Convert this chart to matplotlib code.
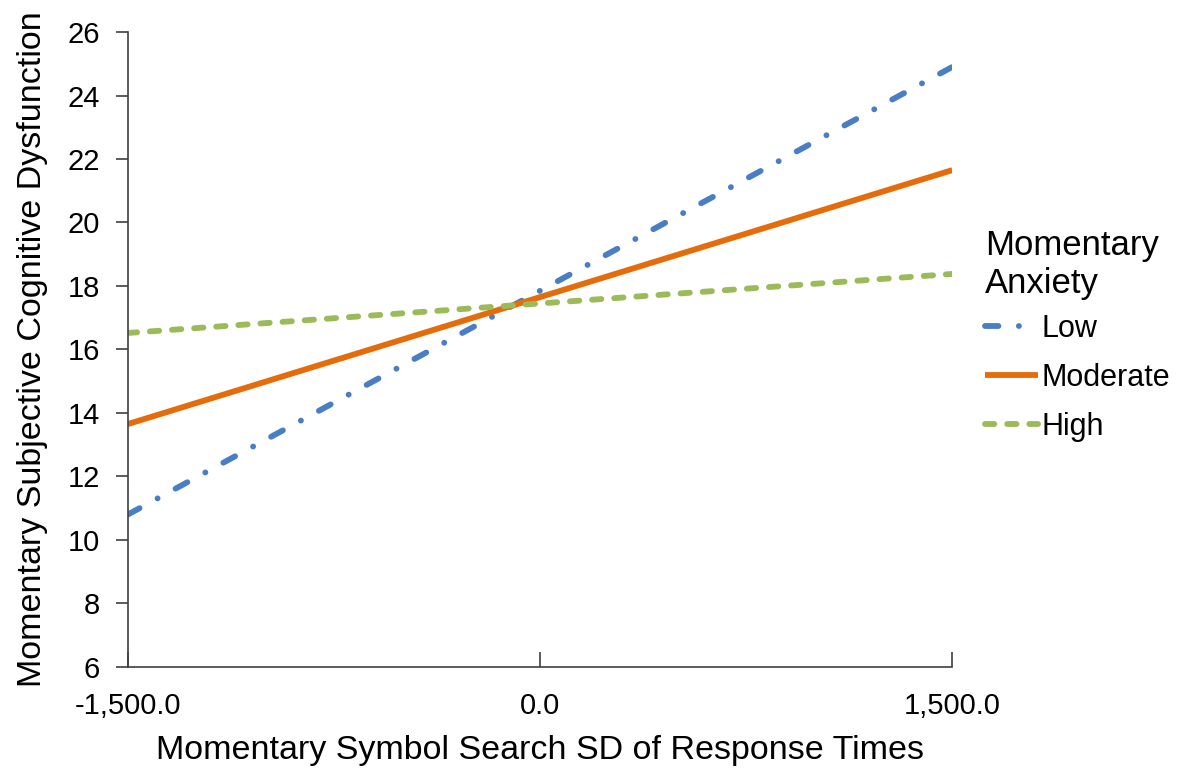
import numpy as np
import matplotlib
matplotlib.use("Agg")
import matplotlib.pyplot as plt

# values
x_vals = [-1500, 1500]
low = [10.8, 24.9]
moderate = [13.65, 21.65]
high = [16.52, 18.38]
x_ticks = [-1500, 0, 1500]
x_ticklabels = ["-1,500.0", "0.0", "1,500.0"]
y_ticks = list(range(6, 27, 2))

plt.rcParams["font.family"] = ["Liberation Sans", "DejaVu Sans"]

fig = plt.figure(figsize=(11.83, 7.75), dpi=100)
ax = fig.add_axes([0.108, 0.1394, 0.697, 0.8193])

lw = 4.2
ax.plot(x_vals, low, color="#4A7EC4", lw=lw, dash_capstyle="round",
        linestyle=(0, (2.3, 3.5, 0.02, 3.5)), label="Low")
ax.plot(x_vals, moderate, color="#E46C0A", lw=lw, solid_capstyle="butt",
        label="Moderate")
ax.plot(x_vals, high, color="#9BBB59", lw=lw, dash_capstyle="round",
        linestyle=(0, (1.6, 2.2)), label="High")

ax.set_xlim(-1500, 1500)
ax.set_ylim(6, 26)
ax.set_xticks(x_ticks)
ax.set_xticklabels(x_ticklabels)
ax.set_yticks(y_ticks)

for s in ["top", "right"]:
    ax.spines[s].set_visible(False)
for s in ["left", "bottom"]:
    ax.spines[s].set_color("#404040")
    ax.spines[s].set_linewidth(1.2)

ax.tick_params(axis="y", direction="out", length=9, width=1.2, color="#404040",
               labelsize=21, pad=11)
ax.tick_params(axis="x", direction="in", length=11, width=1.2, color="#404040",
               labelsize=21, pad=18)

ax.set_xlabel("Momentary Symbol Search SD of Response Times", fontsize=24.5,
              labelpad=11)
ax.set_ylabel("Momentary Subjective Cognitive Dysfunction", fontsize=24.5,
              labelpad=14)

leg = ax.legend(title="Momentary\nAnxiety", loc="upper left",
                bbox_to_anchor=(985 / 1183, 546 / 775),
                bbox_transform=fig.transFigure, frameon=False, fontsize=22,
                title_fontsize=25, handlelength=1.75, handletextpad=0.1,
                labelspacing=0.62, borderaxespad=0, borderpad=0)
leg._legend_box.align = "left"
leg._legend_box.sep = 10  # tighter gap under the title

fig.savefig("out.png", dpi=100)
